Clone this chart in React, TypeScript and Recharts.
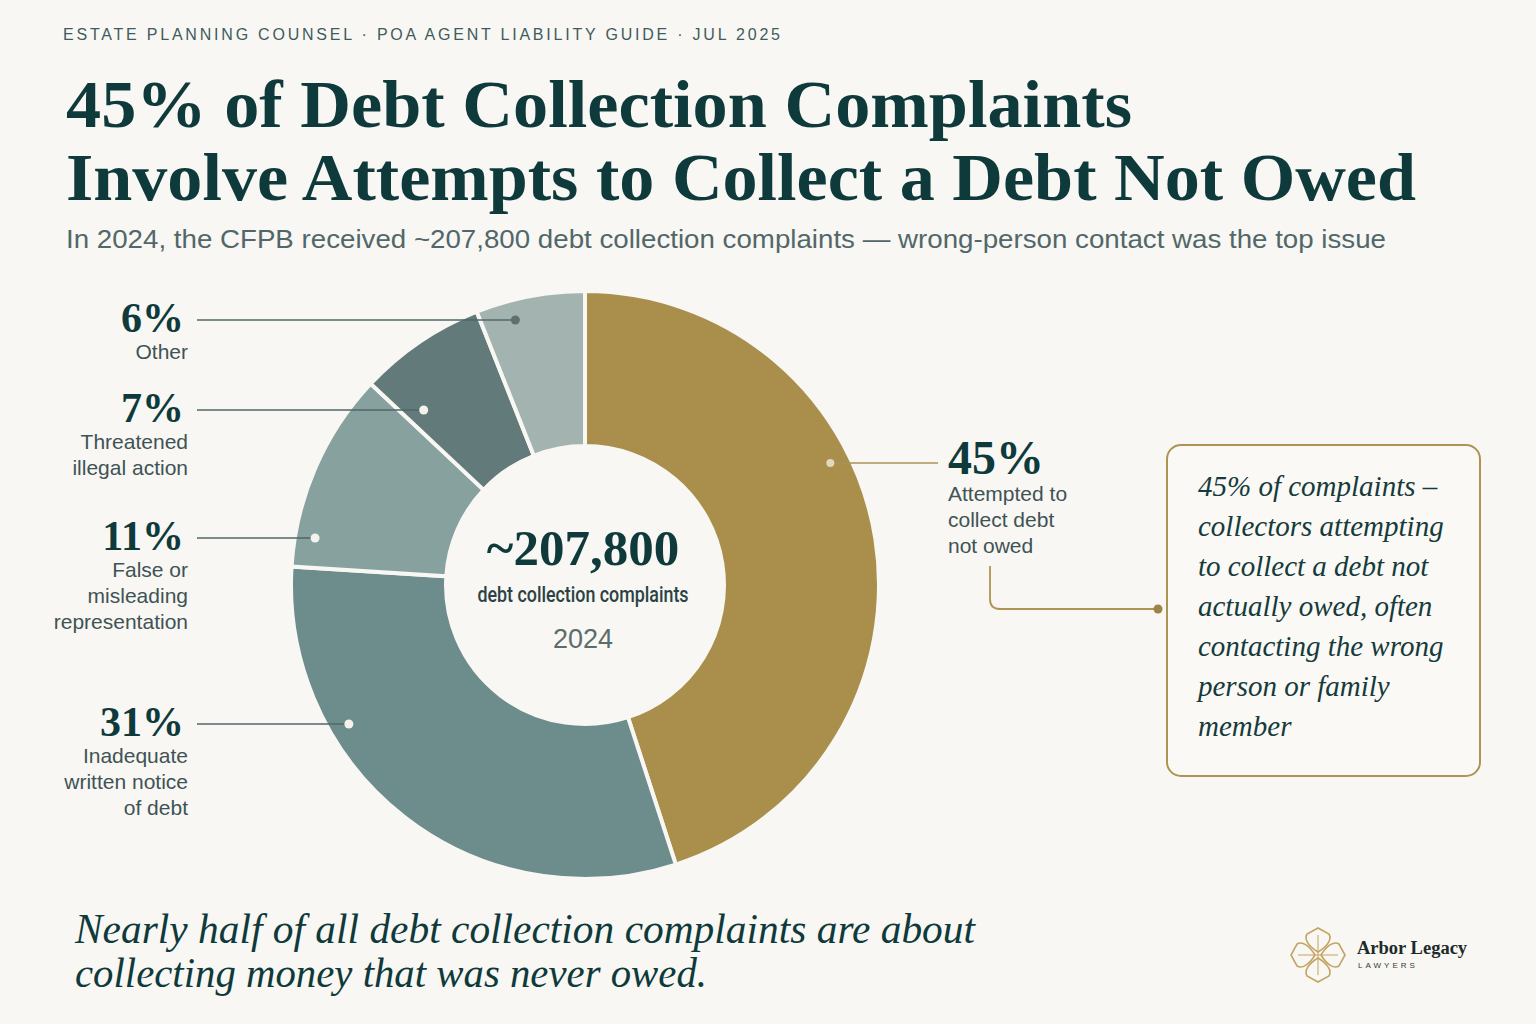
import React from "react";
import { Cell, Pie, PieChart } from "recharts";

// complaint issue breakdown, CFPB 2024
const CATEGORIES = [
  "Attempted to collect debt not owed",
  "Inadequate written notice of debt",
  "False or misleading representation",
  "Threatened illegal action",
  "Other",
];
const SHARES = [45, 31, 11, 7, 6];
const CATEGORY_LINES = [
  ["Attempted to", "collect debt", "not owed"],
  ["Inadequate", "written notice", "of debt"],
  ["False or", "misleading", "representation"],
  ["Threatened", "illegal action"],
  ["Other"],
];
const TOTAL_LABEL = "~207,800";
const TOTAL_CAPTION = "debt collection complaints";
const YEAR = "2024";

const CALLOUT_LINES = [
  "45% of complaints \u2013",
  "collectors attempting",
  "to collect a debt not",
  "actually owed, often",
  "contacting the wrong",
  "person or family",
  "member",
];

const SLICE_COLORS = ["#a98f4b", "#6d8c8c", "#87a19e", "#627a7a", "#a3b4b0"];
const DOT_FILLS = ["#e2d8bc", "#f3f2ed", "#f3f2ed", "#f3f2ed", "#5b7172"];

const W = 1536;
const H = 1024;
const CX = 585;
const CY = 585;
const OUTER = 294;
const INNER = 139;
// y of each annotation leader line
const LABEL_Y = [463, 724, 538, 410, 320];
const LEFT_TEXT_X = 188;
const RIGHT_TEXT_X = 948;
const BOX = { x: 1167, y: 445, w: 313, h: 331 };

const BG = "#f8f7f3";
const INK = "#0f3a3b";
const GREY_INK = "#3f5355";
const GOLD = "#ad9453";
const SERIF = "'Liberation Serif', 'Times New Roman', serif";
const SANS = "'Liberation Sans', Arial, sans-serif";

const total = SHARES.reduce((s, v) => s + v, 0);

const renderLabel = (props: any) => {
  const i: number = props.index;
  const cx: number = props.cx;
  const cy: number = props.cy;
  const before = SHARES.slice(0, i).reduce((s, v) => s + v, 0);
  const a0 = (before / total) * 360;
  const a1 = ((before + SHARES[i]) / total) * 360;
  const right = (a0 + a1) / 2 < 180;
  const y = LABEL_Y[i];

  // find a point on the leader line that falls inside the slice
  let dotX = cx + (right ? 1 : -1) * (OUTER - 25);
  for (let r = OUTER - 20; r > INNER + 15; r -= 2) {
    const dy = y - cy;
    if (Math.abs(dy) >= r) continue;
    const dx = (right ? 1 : -1) * Math.sqrt(r * r - dy * dy);
    let ang = (Math.atan2(dx, -dy) * 180) / Math.PI;
    if (ang < 0) ang += 360;
    if (ang > a0 + 4 && ang < a1 - 4) {
      dotX = cx + dx;
      break;
    }
  }

  const pct = `${SHARES[i]}%`;
  const lines = CATEGORY_LINES[i];

  if (right) {
    const lx = RIGHT_TEXT_X - 10;
    const connX = RIGHT_TEXT_X + 42;
    const top = y + 103;
    const midY = y + 146;
    return (
      <g key={`lbl-${i}`}>
        <line x1={dotX} y1={y} x2={lx} y2={y} stroke="#a8935a" strokeWidth={1.6} />
        <circle cx={dotX} cy={y} r={4} fill={DOT_FILLS[i]} />
        <text x={RIGHT_TEXT_X} y={y + 11} fontFamily={SERIF} fontWeight={700} fontSize={48} fill={INK}>
          {pct}
        </text>
        {lines.map((t, k) => (
          <text key={k} x={RIGHT_TEXT_X} y={y + 38 + k * 26} fontFamily={SANS} fontSize={21} fill={GREY_INK}>
            {t}
          </text>
        ))}
        <path
          d={`M${connX},${top} L${connX},${midY - 10} Q${connX},${midY} ${connX + 10},${midY} L${BOX.x - 9},${midY}`}
          fill="none"
          stroke={GOLD}
          strokeWidth={1.8}
        />
        <circle cx={BOX.x - 9} cy={midY} r={4.5} fill="#9c8445" />
      </g>
    );
  }

  return (
    <g key={`lbl-${i}`}>
      <line x1={LEFT_TEXT_X + 9} y1={y} x2={dotX} y2={y} stroke="#50676a" strokeWidth={1.6} />
      <circle cx={dotX} cy={y} r={4.5} fill={DOT_FILLS[i]} />
      <text x={LEFT_TEXT_X - 4} y={y + 12} textAnchor="end" fontFamily={SERIF} fontWeight={700} fontSize={42} fill={INK}>
        {pct}
      </text>
      {lines.map((t, k) => (
        <text key={k} x={LEFT_TEXT_X} y={y + 39 + k * 26} textAnchor="end" fontFamily={SANS} fontSize={21} fill={GREY_INK}>
          {t}
        </text>
      ))}
    </g>
  );
};

const Logo = () => {
  const petal = "M0,-3 C-10,-9 -14,-16 -11,-21 L0,-27 L11,-21 C14,-16 10,-9 0,-3 Z";
  return (
    <g transform="translate(1318,955)">
      {[0, 90, 180, 270].map((r) => (
        <path key={r} d={petal} transform={`rotate(${r})`} fill="none" stroke="#c3a462" strokeWidth={1.6} />
      ))}
      <line x1={-20} y1={0} x2={20} y2={0} stroke="#c3a462" strokeWidth={1} />
      <line x1={0} y1={-20} x2={0} y2={20} stroke="#c3a462" strokeWidth={1} />
      <text x={39} y={-1} fontFamily={SERIF} fontWeight={700} fontSize={18.5} fill="#1e2a2a">
        Arbor Legacy
      </text>
      <text x={40} y={13} fontFamily={SANS} fontSize={8} letterSpacing={3} fill="#2f3a3a">
        LAWYERS
      </text>
    </g>
  );
};

export default function App() {
  return (
    <div style={{ position: "absolute", left: 0, top: 0, width: W, height: H, background: BG, overflow: "hidden" }}>
      <svg width={W} height={H} style={{ position: "absolute", left: 0, top: 0 }}>
        <text x={63} y={40} fontFamily={SANS} fontSize={16} fill="#3f5b5d" textLength={717} lengthAdjust="spacing">
          ESTATE PLANNING COUNSEL · POA AGENT LIABILITY GUIDE · JUL 2025
        </text>
        <text x={66} y={127} fontFamily={SERIF} fontWeight={700} fontSize={68} fill={INK} textLength={1066} lengthAdjust="spacingAndGlyphs">
          45% of Debt Collection Complaints
        </text>
        <text x={66} y={200} fontFamily={SERIF} fontWeight={700} fontSize={68} fill={INK} textLength={1350} lengthAdjust="spacingAndGlyphs">
          Involve Attempts to Collect a Debt Not Owed
        </text>
        <text x={66} y={248} fontFamily={SANS} fontSize={25} fill="#526769" textLength={1320} lengthAdjust="spacingAndGlyphs">
          In 2024, the CFPB received ~207,800 debt collection complaints — wrong-person contact was the top issue
        </text>

        <rect x={BOX.x} y={BOX.y} width={BOX.w} height={BOX.h} rx={14} fill="#faf9f5" stroke={GOLD} strokeWidth={2} />
        {CALLOUT_LINES.map((t, k) => (
          <text key={k} x={BOX.x + 31} y={BOX.y + 51 + k * 40} fontFamily={SERIF} fontStyle="italic" fontSize={29} fill="#163b3c">
            {t}
          </text>
        ))}

        <text x={75} y={943} fontFamily={SERIF} fontStyle="italic" fontSize={42} fill={INK} textLength={900} lengthAdjust="spacingAndGlyphs">
          Nearly half of all debt collection complaints are about
        </text>
        <text x={75} y={987} fontFamily={SERIF} fontStyle="italic" fontSize={42} fill={INK} textLength={632} lengthAdjust="spacingAndGlyphs">
          collecting money that was never owed.
        </text>
        <Logo />
      </svg>

      <div style={{ position: "absolute", left: 0, top: 0 }}>
        <PieChart width={W} height={H} margin={{ top: 0, right: 0, bottom: 0, left: 0 }}>
          <Pie
            data={CATEGORIES.map((name, i) => ({ name, value: SHARES[i] }))}
            dataKey="value"
            nameKey="name"
            cx={CX}
            cy={CY}
            innerRadius={INNER}
            outerRadius={OUTER}
            startAngle={90}
            endAngle={-270}
            stroke={BG}
            strokeWidth={4}
            label={renderLabel}
            labelLine={false}
            isAnimationActive={false}
          >
            {CATEGORIES.map((_, i) => (
              <Cell key={i} fill={SLICE_COLORS[i]} />
            ))}
          </Pie>
        </PieChart>
      </div>

      <svg width={W} height={H} style={{ position: "absolute", left: 0, top: 0, pointerEvents: "none" }}>
        <text x={CX - 2} y={565} textAnchor="middle" fontFamily={SERIF} fontWeight={700} fontSize={51} fill={INK}>
          {TOTAL_LABEL}
        </text>
        <text x={CX - 2} y={602} textAnchor="middle" fontFamily="Roboto, sans-serif" fontWeight={500} fontSize={22} fill="#2c4244" textLength={211} lengthAdjust="spacingAndGlyphs">
          {TOTAL_CAPTION}
        </text>
        <text x={CX - 2} y={648} textAnchor="middle" fontFamily={SANS} fontSize={27} fill="#5b6c6d">
          {YEAR}
        </text>
      </svg>
    </div>
  );
}
